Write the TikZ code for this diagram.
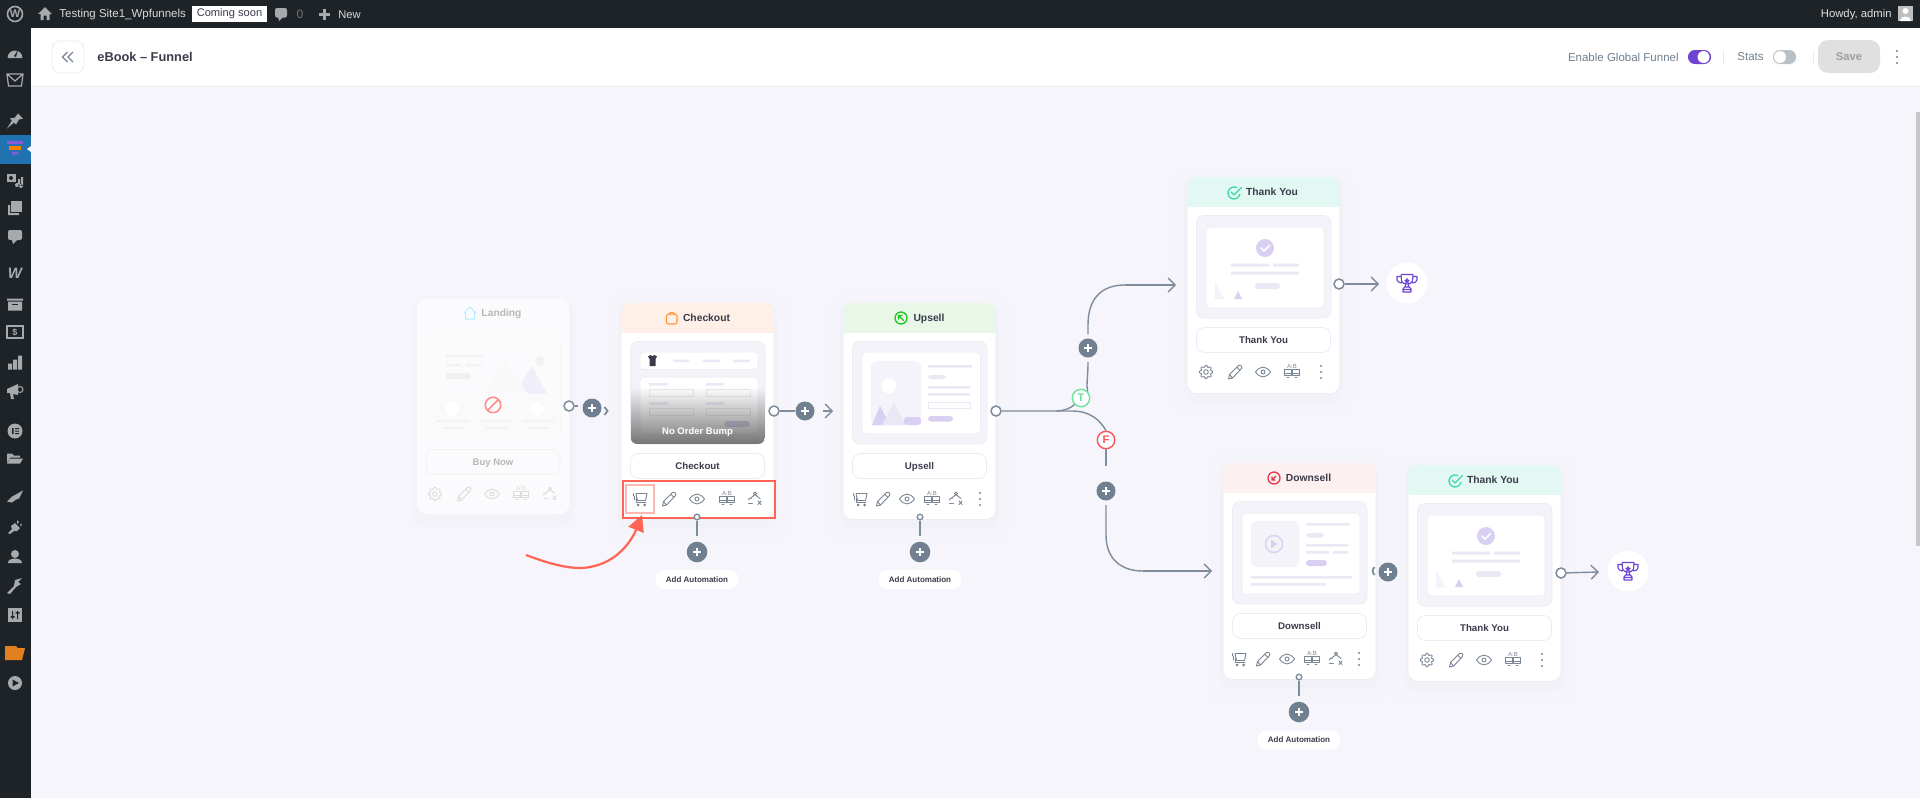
\documentclass[tikz,border=0pt]{standalone}
\usepackage{fontspec}
\setmainfont{Liberation Sans}
\usetikzlibrary{arrows.meta,calc}
\newcommand{\px}[1]{\fontsize{\fpeval{#1/2}}{\fpeval{#1/2+1}}\selectfont}
\definecolor{pagebg}{HTML}{F5F5FB}
\definecolor{wpdark}{HTML}{1D2327}
\definecolor{wpblue}{HTML}{2271B1}
\definecolor{wpicon}{HTML}{A7AAAD}
\definecolor{inkc}{HTML}{3A3C4C}
\definecolor{slatec}{HTML}{708090}
\definecolor{linec}{HTML}{7F8C9B}
\definecolor{iconc}{HTML}{7A8594}
\definecolor{purplec}{HTML}{6E42D3}
\definecolor{lilac}{HTML}{D9CFF2}
\definecolor{lilacl}{HTML}{EBE8F6}
\definecolor{thumbc}{HTML}{F3F3F9}
\definecolor{redbox}{HTML}{FF6454}
\definecolor{bordc}{HTML}{ECECF3}
\definecolor{hdcheck}{HTML}{FFF0E7}
\definecolor{hdup}{HTML}{E9F7E8}
\definecolor{hdty}{HTML}{E3F8F2}
\definecolor{hddown}{HTML}{FDF0F0}
\definecolor{hdland}{HTML}{FBFBFD}
\definecolor{landmt}{HTML}{F0EEF8}
\definecolor{greenT}{HTML}{6BE29A}
\definecolor{redF}{HTML}{F9545A}
\definecolor{tyicon}{HTML}{3BD9A5}
\tikzset{
  x=0.5pt,y=-0.5pt,
  cardn/.style={rectangle,fill=white,rounded corners=5pt,inner sep=0pt,outer sep=0pt,minimum width=76.5pt,minimum height=108pt},
  btnn/.style={rectangle,draw=bordc,line width=0.4pt,fill=white,rounded corners=4pt,inner sep=0pt,minimum width=67pt,minimum height=12.5pt,text=inkc,font=\bfseries\px{9.7},text height=4.0pt,text depth=.6pt},
  titlen/.style={inner sep=0pt,text=inkc,font=\bfseries\px{10.3},text height=4.4pt,text depth=.7pt},
  pilln/.style={rectangle,fill=white,rounded corners=4.6pt,inner sep=0pt,minimum width=41.5pt,minimum height=9.5pt,text=inkc,font=\bfseries\px{8}},
  port/.style={circle,draw=linec,line width=0.75pt,fill=white,inner sep=0pt,minimum size=5pt},
  porttiny/.style={circle,draw=linec,line width=0.7pt,fill=white,inner sep=0pt,minimum size=2.8pt},
  plusn/.style={circle,fill=slatec,inner sep=0pt,minimum size=#1,
     path picture={\draw[white,line width=0.8pt] (path picture bounding box.center) +(-3.8,0) -- +(3.8,0) +(0,-3.8) -- +(0,3.8);}},
  plusn/.default=9.5pt,
  conn/.style={draw=linec,line width=0.7pt},
  connarr/.style={conn,-{Straight Barb[length=3.5pt,width=7pt,line width=0.7pt]}},
  ic/.style={draw=iconc,line width=0.45pt,line join=round,line cap=round},
}
% ---- small icons, centred on the current origin
\newcommand{\iconcart}{\draw[ic] (-4,-5.5)--(7,-5.5)--(5.5,1.5)--(-2.5,1.5)--(-4,-5.5);
 \draw[ic] (-7,-5.5)--(-7,-3) (-6,-3)--(-6,1) (-4,-1)--(-4,3.5)--(6,3.5);
 \fill[iconc] (-2,6) circle (1.5) (4.5,6) circle (1.5);}
\newcommand{\iconpencil}{\draw[ic] (-6.5,7)--(-5.5,2.5)--(3.5,-6.5)--(5.5,-6.8)--(6.8,-5.5)--(6.5,-3.5)--(-2.5,6)--cycle (1.8,-4.6)--(5,-1.5) (-5.5,2.5)--(-2.5,6);}
\newcommand{\iconeye}{\draw[ic] (-7.5,0) .. controls (-3,-6.5) and (3,-6.5) .. (7.5,0) .. controls (3,6.5) and (-3,6.5) .. cycle (0,0) circle (2);}
\newcommand{\iconab}{\node[inner sep=0pt,text=iconc,font=\px{6}] (abt) at (0,-6) {A:B};
 \draw[ic] (-7.5,-2.5) rectangle (-.5,3.5) (.5,-2.5) rectangle (7.5,3.5) (-5,5.5)--(-3,5.5) (3,5.5)--(5,5.5) (-7.5,1.5)--(7.5,1.5);}
\newcommand{\iconauto}{\draw[ic] (0,-5.5) circle (1.6) (-.5,-4)--(-5,-.5) (.5,-4)--(5,-.5) (-6.5,1) arc (180:300:2) (-6.5,4.5)--(-2.5,4.5) (3,2)--(6,5.5) (6,2)--(3,5.5);}
\newcommand{\icongear}{\draw[ic] plot[domain=0:360,samples=65,smooth cycle] ({\x}:{5.9+0.9*cos(8*\x)}) (0,0) circle (2.3);}
\newcommand{\icondots}{\fill[iconc] (0,-6) circle (1.15) (0,0) circle (1.15) (0,6) circle (1.15);}
\newcommand{\trophy}{\draw[purplec,line width=0.55pt,line join=round]
  (-6,-8.5)--(6,-8.5) (-6,-8.5) -- (-5.5,-2) .. controls (-4.5,2) and (4.5,2) .. (5.5,-2) -- (6,-8.5)
  (-6,-6.5) -- (-10,-6.5) -- (-10,-3) .. controls (-10,-1) and (-7,0) .. (-5,0)
  (6,-6.5) -- (10,-6.5) -- (10,-3) .. controls (10,-1) and (7,0) .. (5,0)
  (-1.5,1)--(-1.5,4) (1.5,1)--(1.5,4) (-2.5,4)--(2.5,4)--(4,6)--(4,9)--(-4,9)--(-4,6)--cycle (-4,6.5)--(4,6.5);
  \fill[purplec] (-3,-3) -- (-.9,-3.4) -- (0,-5.5) -- (.9,-3.4) -- (3,-3) -- (1.4,-1.6) -- (1.9,.5) -- (0,-.6) -- (-1.9,.5) -- (-1.4,-1.6) -- cycle;}
\newcommand{\sbi}[2]{\begin{scope}[shift={(15,#1)}]#2\end{scope}}
% ---- card frame: #1 title x, #2 name, #3 header colour, #4 title, #5 button
\newcommand{\cardframe}[5][76.5]{%
  \fill[bordc,opacity=.10,rounded corners=6pt] (-12,-8) rectangle (165,238);
  \fill[bordc,opacity=.30,rounded corners=6pt] (-3,0) rectangle (156,226);
  \node[cardn,draw=bordc,line width=0.3pt] (#2) at (76.5,108.5) {};
  \begin{scope}
   \clip[rounded corners=5pt] (0,0) rectangle (153,217);
   \fill[#3] (0,0) rectangle (153,30);
  \end{scope}
  \node[titlen] (#2-title) at (#1,15) {#4};
  \node[btnn] (#2-btn) at (76.5,163) {#5};
  \fill[thumbc,rounded corners=3.5pt,draw=bordc,line width=0.3pt] (9.5,38.5) rectangle (144,141);
}
\newcommand{\whitepanel}[4]{\fill[white,rounded corners=2pt,draw=bordc,line width=0.3pt] (#1,#2) rectangle (#3,#4);}
\newcommand{\tythumb}{%
  \whitepanel{19}{50}{137}{131}
  \fill[lilac] (78,71) circle (9);
  \draw[white,line width=0.8pt,line cap=round] (74,71)--(77,74)--(82.5,68.5);
  \fill[lilacl] (44,86.5) rectangle (82,89.5) (86,86.5) rectangle (112,89.5) (44,94.5) rectangle (112,97.5);
  \fill[lilacl,rounded corners=1.5pt] (68,106) rectangle (93,112);
  \fill[thumbc] (28,105) -- (28,122) -- (37,122) -- cycle;
  \fill[lilac] (51,114) -- (47,122) -- (55,122) -- cycle;
}
\newcommand{\tyhead}{%
  \draw[tyicon,line width=.65pt] (52.9,17) arc (10:300:6);
  \draw[tyicon,line width=.65pt,line join=round,line cap=round] (44,15) -- (47,18) -- (54.5,10.5);
}
\begin{document}
\begin{tikzpicture}
\useasboundingbox (0,0) rectangle (1920,798);
\fill[pagebg] (0,0) rectangle (1920,798);
% --- top chrome
\fill[white] (31,28) rectangle (1920,86);
\draw[bordc,line width=0.4pt] (31,86) -- (1920,86);
\fill[wpdark] (0,0) rectangle (1920,28);
\fill[wpdark] (0,0) rectangle (31,798);
\fill[wpblue] (0,135) rectangle (31,164);
\fill[pagebg] (27,149) -- (31,146) -- (31,152) -- cycle;
\fill[black!22] (1916,112) rectangle (1920,546);
% admin bar
\draw[wpicon,line width=0.8pt] (15,14) circle (7.5);
\node[inner sep=0pt,text=wpicon,font=\bfseries\px{11}] (wplogo) at (15,14) {W};
\fill[wpicon] (38,14) -- (45,7) -- (52,14) -- (49.5,14) -- (49.5,20) -- (46.5,20) -- (46.5,15.5) -- (43.5,15.5) -- (43.5,20) -- (40.5,20) -- (40.5,14) -- cycle;
\node[inner sep=0pt,anchor=west,text=black!15,font=\px{11.5}] (site) at (59,14.5) {Testing Site1\_Wpfunnels};
\node[rectangle,fill=white,text=inkc,inner sep=0pt,minimum width=37.5pt,minimum height=8pt,font=\px{11.1}] (soon) at (229.5,14) {Coming soon};
\fill[wpicon,rounded corners=1pt] (275,8) rectangle (287,17.5);
\fill[wpicon] (278,17) -- (283,17) -- (279,21) -- cycle;
\node[inner sep=0pt,text=black!55,font=\px{12}] (cnt) at (300,14.5) {0};
\draw[wpicon,line width=1.1pt] (319,14.5) -- (330,14.5) (324.5,9) -- (324.5,20);
\node[inner sep=0pt,anchor=west,text=black!15,font=\px{11.2}] (newt) at (338,14.5) {New};
\node[inner sep=0pt,anchor=east,text=black!12,font=\px{11.3}] (howdy) at (1892,14.5) {Howdy, admin};
\fill[black!25] (1898,6) rectangle (1913,21);
\fill[white] (1905.5,11) circle (3) (1900,21) .. controls (1900,15) and (1911,15) .. (1911,21) -- cycle;
% plugin header
\node[rectangle,draw=bordc,line width=0.4pt,fill=white,rounded corners=4pt,inner sep=0pt,minimum size=16pt] (backb) at (68,57) {};
\draw[iconc,line width=.6pt] (67.5,52) -- (62.5,57) -- (67.5,62) (73,52) -- (68,57) -- (73,62);
\node[inner sep=0pt,anchor=west,text=inkc,font=\bfseries\px{12.8}] (ebook) at (97,57) {eBook – Funnel};
\node[inner sep=0pt,anchor=east,text=slatec,font=\px{11.5}] (egf) at (1679,57) {Enable Global Funnel};
\fill[purplec,rounded corners=3.4pt] (1688,50) rectangle (1711,64);
\fill[white] (1703.5,57) circle (6);
\draw[black!8,line width=.4pt] (1723,50) -- (1723,64) (1813,50) -- (1813,64);
\node[inner sep=0pt,text=slatec,font=\px{11.5}] (statst) at (1750.5,57) {Stats};
\fill[slatec!50,rounded corners=3.4pt] (1773,50) rectangle (1796,64);
\fill[white] (1780,57) circle (6);
\node[rectangle,fill=black!12,rounded corners=5pt,inner sep=0pt,minimum width=31pt,minimum height=16.5pt,text=black!38,font=\bfseries\px{11.2}] (save) at (1849,56.5) {Save};
\fill[slatec] (1897,51) circle (1.2) (1897,57) circle (1.2) (1897,63) circle (1.2);
% sidebar icons
\begin{scope}[wpicon]
 \sbi{53}{\fill (-7.5,5) arc (180:360:7.5) -- cycle; \fill[wpdark] (-1,3) -- (3,-3) -- (1,4) -- cycle;}
 \sbi{80}{\draw[wpicon,line width=.6pt] (-8,-6) -- (8,-6) -- (6.5,6) -- (-6.5,6) -- cycle (-8,-6) -- (0,1) -- (8,-6);}
 \sbi{121.5}{\fill (3,-8) -- (8,-3) -- (4,-2) -- (1,3) -- (-1,1) -- (-8,7) -- (-3,-1) -- (-5,-3) -- (0,-4) -- cycle;}
 \sbi{180}{\fill (-8,-6) rectangle (1,2); \fill[wpdark] (-4,-2) circle (2); \fill (3,-1) rectangle (5,6) (6,-3) rectangle (8,6) (2,5) circle (2) (6,6) circle (2);}
 \sbi{208}{\fill (-4,-7) rectangle (7,4); \fill (-7,-3) rectangle (-5,7) (-7,5) rectangle (4,7);}
 \sbi{236}{\fill[rounded corners=1pt] (-7,-6) rectangle (7,4); \fill (-3,4) -- (2,4) -- (-2,8) -- cycle;}
 \node[inner sep=0pt,text=wpicon,font=\bfseries\itshape\px{15}] (wooicon) at (15,273) {W};
 \sbi{304.5}{\fill (-8,-6) rectangle (8,-4) (-7,-3) rectangle (7,6); \fill[wpdark] (-3,-1) rectangle (3,0);}
 \sbi{332}{\draw[wpicon,line width=.6pt] (-8,-6) rectangle (8,6);}
 \node[inner sep=0pt,text=wpicon,font=\bfseries\px{9}] (dollar) at (15,332) {\$};
 \sbi{362.6}{\fill (-7,1) rectangle (-3,7) (-2,-3) rectangle (2,7) (3,-7) rectangle (7,7);}
 \sbi{391}{\fill (-8,-2) -- (3,-7) -- (3,4) -- (-2,3) -- (-1,8) -- (-4,8) -- (-5,2) -- (-8,2) -- cycle; \draw[wpicon,line width=.5pt] (5,-1.5) circle (3);}
 \sbi{431}{\fill (0,0) circle (7.5); \fill[wpdark] (-3,-3) rectangle (-1.5,3) (0,-3) rectangle (4,-2) (0,-.5) rectangle (4,.5) (0,2) rectangle (4,3);}
 \sbi{458.6}{\fill (-8,4) -- (-8,-5) -- (-3,-5) -- (-1,-3) -- (5,-3) -- (5,-1) -- (-5,-1) -- cycle (-5,0) -- (8,0) -- (5,5) -- (-8,5) -- cycle;}
 \sbi{496.5}{\fill (-8,5) -- (-3,0) -- (-1,-1) -- (8,-6) -- (4,2) -- (1,3) -- (-3,6) -- cycle;}
 \sbi{526}{\fill (-7,7) -- (-3,3) -- (-4,0) -- (0,-3) -- (5,2) -- (2,5) -- (-1,5) -- (-5,8) -- cycle (2,-6) -- (4,-4) -- (2,-2) -- cycle (6,-3) -- (7,-1) -- (5,0) -- cycle;}
 \sbi{556}{\fill (0,-2) circle (4) (-7,7) .. controls (-7,1) and (7,1) .. (7,7) -- cycle;}
 \sbi{586}{\fill (-8,7) -- (-1,0) -- (0,-6) -- (7,-8) -- (3,-4) -- (6,-2) -- (1,1) -- (-5,8) -- cycle;}
 \sbi{615}{\fill (-7,-7) rectangle (7,7); \fill[wpdark] (-3,-4) rectangle (-2,4) (2,-4) rectangle (3,4) (-4.5,1) rectangle (-.5,2.5) (.5,-3) rectangle (4.5,-1.5);}
 \sbi{683}{\fill (0,0) circle (7); \fill[wpdark] (-2.5,-3.5) -- (4,0) -- (-2.5,3.5) -- cycle;}
\end{scope}
\sbi{653}{\fill[orange!55!brown] (-10,-7) -- (1,-7) -- (3,-5) -- (10,-5) -- (7,7) -- (-10,7) -- cycle;}
\sbi{148}{\fill[purplec!85!white] (-8,-7) rectangle (8,-4) (-3,3.5) rectangle (3,6.5); \fill[orange] (-6,-2) rectangle (6,1.5);}

% =============== LANDING (faded)
\begin{scope}[shift={(417,299)}]
 \colorlet{iconc}{black!14}
 \colorlet{lilacl}{black!4}
 \fill[bordc,opacity=.25,rounded corners=6pt] (-4,2) rectangle (156,228);
 \node[cardn,minimum height=107.5pt,fill=white!60!pagebg] (landing) at (76,107.5) {};
 \begin{scope}
  \clip[rounded corners=5pt] (0,0) rectangle (152,215);
  \fill[hdland] (0,0) rectangle (152,29);
 \end{scope}
 \draw[blue!25!cyan!30,line width=.5pt,line join=round] (47,14) -- (53,8) -- (59,14) (48.5,13) -- (48.5,20) -- (57.5,20) -- (57.5,13);
 \node[titlen,text=black!28] (landing-title) at (84.5,14) {Landing};
 \fill[black!2,rounded corners=3.5pt,draw=black!3,line width=.3pt] (9,37) rectangle (144,140);
 \fill[white!60!pagebg,rounded corners=2pt] (19,48) rectangle (137,97);
 \fill[black!2.5] (66,95) -- (88,62) -- (111,95) -- cycle;
 \fill[landmt] (104,85) -- (115,67) -- (130,95) -- (111,95) -- cycle;
 \fill[black!5] (123,62) circle (5);
 \fill[black!5] (29,56) rectangle (65,58) (29,65) rectangle (44,67) (49,65) rectangle (65,67);
 \fill[black!6,rounded corners=1.5pt] (29,74) rectangle (54,80);
 \fill[white] (35,110) circle (7) (77,110) circle (7) (120,110) circle (7);
 \fill[black!5] (20,121) rectangle (52,123) (63,121) rectangle (95,123) (105,121) rectangle (137,123) (25,128) rectangle (47,130) (69,128) rectangle (90,130) (110,128) rectangle (132,130);
 \draw[red!45,line width=.8pt] (76,106) circle (7.7) (70.6,111.4) -- (81.4,100.6);
 \node[rectangle,draw=black!5,line width=.4pt,rounded corners=4pt,inner sep=0pt,minimum width=67pt,minimum height=12.5pt,text=black!28,font=\bfseries\px{9.5},text height=4.0pt,text depth=.6pt] (landing-btn) at (76,163) {Buy Now};
 \begin{scope}[shift={(18,195)}]\icongear\end{scope}
 \begin{scope}[shift={(47,195)}]\iconpencil\end{scope}
 \begin{scope}[shift={(75,195)}]\iconeye\end{scope}
 \begin{scope}[shift={(104,195)}]\iconab\end{scope}
 \begin{scope}[shift={(133,195)}]\iconauto\end{scope}
\end{scope}

% =============== CHECKOUT
\begin{scope}[shift={(621,303)}]
 \cardframe[85.5]{checkout}{hdcheck}{Checkout}{Checkout}
 \draw[orange!90!red!75,line width=.55pt,line join=round,rounded corners=1pt] (45.5,11) rectangle (56,21);
 \draw[orange!90!red!75,line width=.55pt] (48,12) arc (180:360:2.8);
 \whitepanel{19}{49}{137}{66.5}
 \fill[inkc] (27,53.5) -- (29.5,52) -- (31.5,53) -- (33.5,52) -- (36,53.5) -- (34.5,56) -- (34.5,63) -- (28.5,63) -- (28.5,56) -- cycle;
 \fill[lilacl] (52,56.5) rectangle (68,59) (82,56.5) rectangle (99,59) (112,56.5) rectangle (129,59);
 \whitepanel{19}{74}{137}{131}
 \fill[lilacl] (28,80) rectangle (47,82.5) (85,80) rectangle (103,82.5) (28,99) rectangle (47,101.5) (85,99) rectangle (103,101.5);
 \draw[lilac!70!black!20,line width=.4pt] (28,86) rectangle (72,93) (85,86) rectangle (129,93) (28,105) rectangle (72,112) (85,105) rectangle (129,112);
 \fill[lilac,rounded corners=1.5pt] (103,118) rectangle (129,124);
 \begin{scope}
  \clip[rounded corners=3.5pt] (9.5,38.5) rectangle (144,141);
  \foreach \yy in {84,...,140} {\pgfmathsetmacro{\al}{(\yy-84)/56*0.72}\fill[black!72,opacity=\al] (9.5,\yy) rectangle (144,\yy+1);}
 \end{scope}
 \node[inner sep=0pt,text=white,font=\bfseries\px{9.5}] (checkout-note) at (76.5,129) {No Order Bump};
 \begin{scope}[shift={(48,196)}]\iconpencil\end{scope}
 \begin{scope}[shift={(76,196)}]\iconeye\end{scope}
 \begin{scope}[shift={(106,196)}]\iconab\end{scope}
 \begin{scope}[shift={(134,196)}]\iconauto\end{scope}
\end{scope}

% =============== UPSELL
\begin{scope}[shift={(843,303)}]
 \cardframe[86]{upsell}{hdup}{Upsell}{Upsell}
 \draw[green!75!black!90,line width=.65pt] (58,15) circle (6);
 \draw[green!75!black!90,line width=.6pt,line cap=round,line join=round] (60.5,17.5) -- (55.5,12.5) (55.5,16) -- (55.5,12.5) -- (59,12.5);
 \whitepanel{19}{49}{137.5}{131}
 \fill[thumbc,rounded corners=3pt] (28,58) rectangle (78,122);
 \fill[white] (46,83) circle (7.5);
 \fill[lilac] (29,122) -- (37,103) -- (47,122) -- cycle;
 \fill[lilacl] (39,122) -- (51,100) -- (63,122) -- cycle;
 \fill[lilac,rounded corners=1.5pt] (61,114) rectangle (78,122);
 \fill[lilacl] (85,62) rectangle (129,64.5) (85,83) rectangle (127,85.5) (85,90) rectangle (127,92.5);
 \fill[lilacl,rounded corners=1.5pt] (85,72) rectangle (103,76);
 \draw[lilacl,line width=.4pt] (85,99) rectangle (127,105.5);
 \fill[lilac,rounded corners=1.5pt] (85,113) rectangle (110,118.5);
 \begin{scope}[shift={(17,196)}]\iconcart\end{scope}
 \begin{scope}[shift={(40,196)}]\iconpencil\end{scope}
 \begin{scope}[shift={(64,196)}]\iconeye\end{scope}
 \begin{scope}[shift={(89,196)}]\iconab\end{scope}
 \begin{scope}[shift={(113,196)}]\iconauto\end{scope}
 \begin{scope}[shift={(137,196)}]\icondots\end{scope}
\end{scope}

% =============== THANK YOU 1
\begin{scope}[shift={(1187,177)}]
 \cardframe[85]{ty1}{hdty}{Thank You}{Thank You}
 \tyhead
 \tythumb
 \begin{scope}[shift={(19,195)}]\icongear\end{scope}
 \begin{scope}[shift={(48,195)}]\iconpencil\end{scope}
 \begin{scope}[shift={(76,195)}]\iconeye\end{scope}
 \begin{scope}[shift={(105,195)}]\iconab\end{scope}
 \begin{scope}[shift={(134,195)}]\icondots\end{scope}
\end{scope}

% =============== DOWNSELL
\begin{scope}[shift={(1223,463)}]
 \cardframe[85.5]{downsell}{hddown}{Downsell}{Downsell}
 \draw[red!70!pink!90!blue,line width=.65pt] (51,15) circle (6);
 \draw[red!70!pink!90!blue,line width=.6pt,line cap=round,line join=round] (53,13) -- (49,17) (49,14) -- (49,17) -- (52,17);
 \whitepanel{19}{50}{137}{131}
 \fill[thumbc,rounded corners=3pt] (28,58) rectangle (76,104);
 \draw[lilac,line width=.7pt] (51,81) circle (8.5);
 \fill[lilac] (48,76.5) -- (54.5,81) -- (48,85.5) -- cycle;
 \fill[lilacl] (83,60) rectangle (127,62.5) (83,81) rectangle (125,83.5) (83,88) rectangle (106,90.5) (110,88) rectangle (125,90.5) (28,113) rectangle (129,115.5) (28,120) rectangle (103,122.5);
 \fill[lilacl,rounded corners=1.5pt] (83,70) rectangle (101,74.5);
 \fill[lilac,rounded corners=1.5pt] (83,97) rectangle (104,103);
 \begin{scope}[shift={(16,196)}]\iconcart\end{scope}
 \begin{scope}[shift={(40,196)}]\iconpencil\end{scope}
 \begin{scope}[shift={(64,196)}]\iconeye\end{scope}
 \begin{scope}[shift={(89,196)}]\iconab\end{scope}
 \begin{scope}[shift={(113,196)}]\iconauto\end{scope}
 \begin{scope}[shift={(136,196)}]\icondots\end{scope}
\end{scope}

% =============== THANK YOU 2
\begin{scope}[shift={(1408,465)}]
 \cardframe[85]{ty2}{hdty}{Thank You}{Thank You}
 \tyhead
 \tythumb
 \begin{scope}[shift={(19,195)}]\icongear\end{scope}
 \begin{scope}[shift={(48,195)}]\iconpencil\end{scope}
 \begin{scope}[shift={(76,195)}]\iconeye\end{scope}
 \begin{scope}[shift={(105,195)}]\iconab\end{scope}
 \begin{scope}[shift={(134,195)}]\icondots\end{scope}
\end{scope}

% =============== CONNECTORS
% landing -> checkout
\node[port] (l-out) at (569,406) {};
\node[plusn] (l-plus) at (592,408) {};
\coordinate (l-in) at (606,411);
\draw[conn] (l-out) -- ++(9,0);
\draw[conn,line width=.9pt] ($(l-in)+(-1.5,-4)$) -- ($(l-in)+(1.5,0)$) -- ($(l-in)+(-1.5,4)$);
% checkout -> upsell
\node[port] (c-out) at (774,411) {};
\node[plusn] (c-plus) at (805,411) {};
\coordinate (c-in) at (833,411);
\draw[conn] (c-out) -- (c-plus);
\draw[connarr,shorten <=4pt] (c-plus) -- (c-in);
% upsell branches
\node[port] (u-out) at (996,411) {};
\node[circle,draw=greenT,line width=.7pt,fill=white,inner sep=0pt,minimum size=8.7pt,text=greenT,font=\bfseries\px{11}] (tnode) at (1081,398) {T};
\node[circle,draw=redF,line width=.7pt,fill=white,inner sep=0pt,minimum size=8.7pt,text=redF,font=\bfseries\px{11}] (fnode) at (1106,440) {F};
\node[plusn] (t-plus) at (1088,348) {};
\node[plusn] (f-plus) at (1106,491) {};
\coordinate (t-end) at (1176,285);
\coordinate (f-end) at (1212,571);
\draw[conn] (u-out) -- (1056,411) .. controls (1064,411) and (1071,408) .. (tnode.south west);
\draw[conn] (1056,411) -- (1072,411) .. controls (1090,411) and (1100,420) .. (fnode.north);
\draw[conn] (tnode.north east) .. controls (1086,385) and (1088,378) .. (1088,362);
\draw[conn] (1088,334) -- (1088,325) .. controls (1088,300) and (1100,285) .. (1125,285);
\draw[connarr] (1125,285) -- (t-end);
\draw[conn] (fnode) -- ++(0,26);
\draw[conn] (1106,505) -- (1106,535) .. controls (1106,558) and (1120,571) .. (1143,571);
\draw[connarr] (1143,571) -- (f-end);
% thank you 1 -> end
\node[port] (ty1-out) at (1339,284) {};
\node[circle,fill=white,inner sep=0pt,minimum size=20.5pt] (end1) at (1407,283) {};
\coordinate (ty1-in) at (1379,284);
\draw[connarr] (ty1-out) -- (ty1-in);
\begin{scope}[shift={(1407,283)}]\trophy\end{scope}
% downsell -> thank you 2
\node[plusn] (d-plus) at (1388,572) {};
\coordinate (d-in) at (1373,571);
\draw[conn,line width=.9pt] ($(d-in)+(1.5,-4)$) .. controls ($(d-in)+(-1,-1)$) and ($(d-in)+(-1,1)$) .. ($(d-in)+(1.5,4)$);
% thank you 2 -> end
\node[port] (ty2-out) at (1561,573) {};
\node[circle,fill=white,inner sep=0pt,minimum size=20.5pt] (end2) at (1628,571) {};
\coordinate (ty2-in) at (1599,572);
\draw[connarr] (ty2-out) -- (ty2-in);
\begin{scope}[shift={(1628,571)}]\trophy\end{scope}
% highlights
\draw[redbox,line width=1.1pt] (623,481) rectangle (775,518);
\fill[white,draw=redbox!45,line width=1.2pt] (626,485) rectangle (654,513);
\begin{scope}[shift={(640,499)}]\iconcart\end{scope}
% automations
\node[plusn=10.3pt] (ca-p) at (697,552) {};
\node[porttiny] (ca-o) at (697,517) {};
\node[pilln] (ca-l) at (697,579.5) {Add Automation};
\draw[conn,shorten >=2.5pt] (ca-o) -- (ca-p);
\node[plusn=10.3pt] (ua-p) at (920,552) {};
\node[porttiny] (ua-o) at (920,517) {};
\node[pilln] (ua-l) at (920,579.5) {Add Automation};
\draw[conn,shorten >=2.5pt] (ua-o) -- (ua-p);
\node[plusn=10.3pt] (da-p) at (1299,712) {};
\node[porttiny] (da-o) at (1299,677) {};
\node[pilln] (da-l) at (1299,740) {Add Automation};
\draw[conn,shorten >=2.5pt] (da-o) -- (da-p);
\coordinate (ann-start) at (526,555);
\coordinate (ann-end) at (642,515);
\draw[redbox,line width=1.1pt,-{Triangle[length=8pt,width=8pt]}] (ann-start) .. controls (555,566) and (575,570) .. (590,567) .. controls (618,562) and (632,540) .. (ann-end);
\end{tikzpicture}
\end{document}
